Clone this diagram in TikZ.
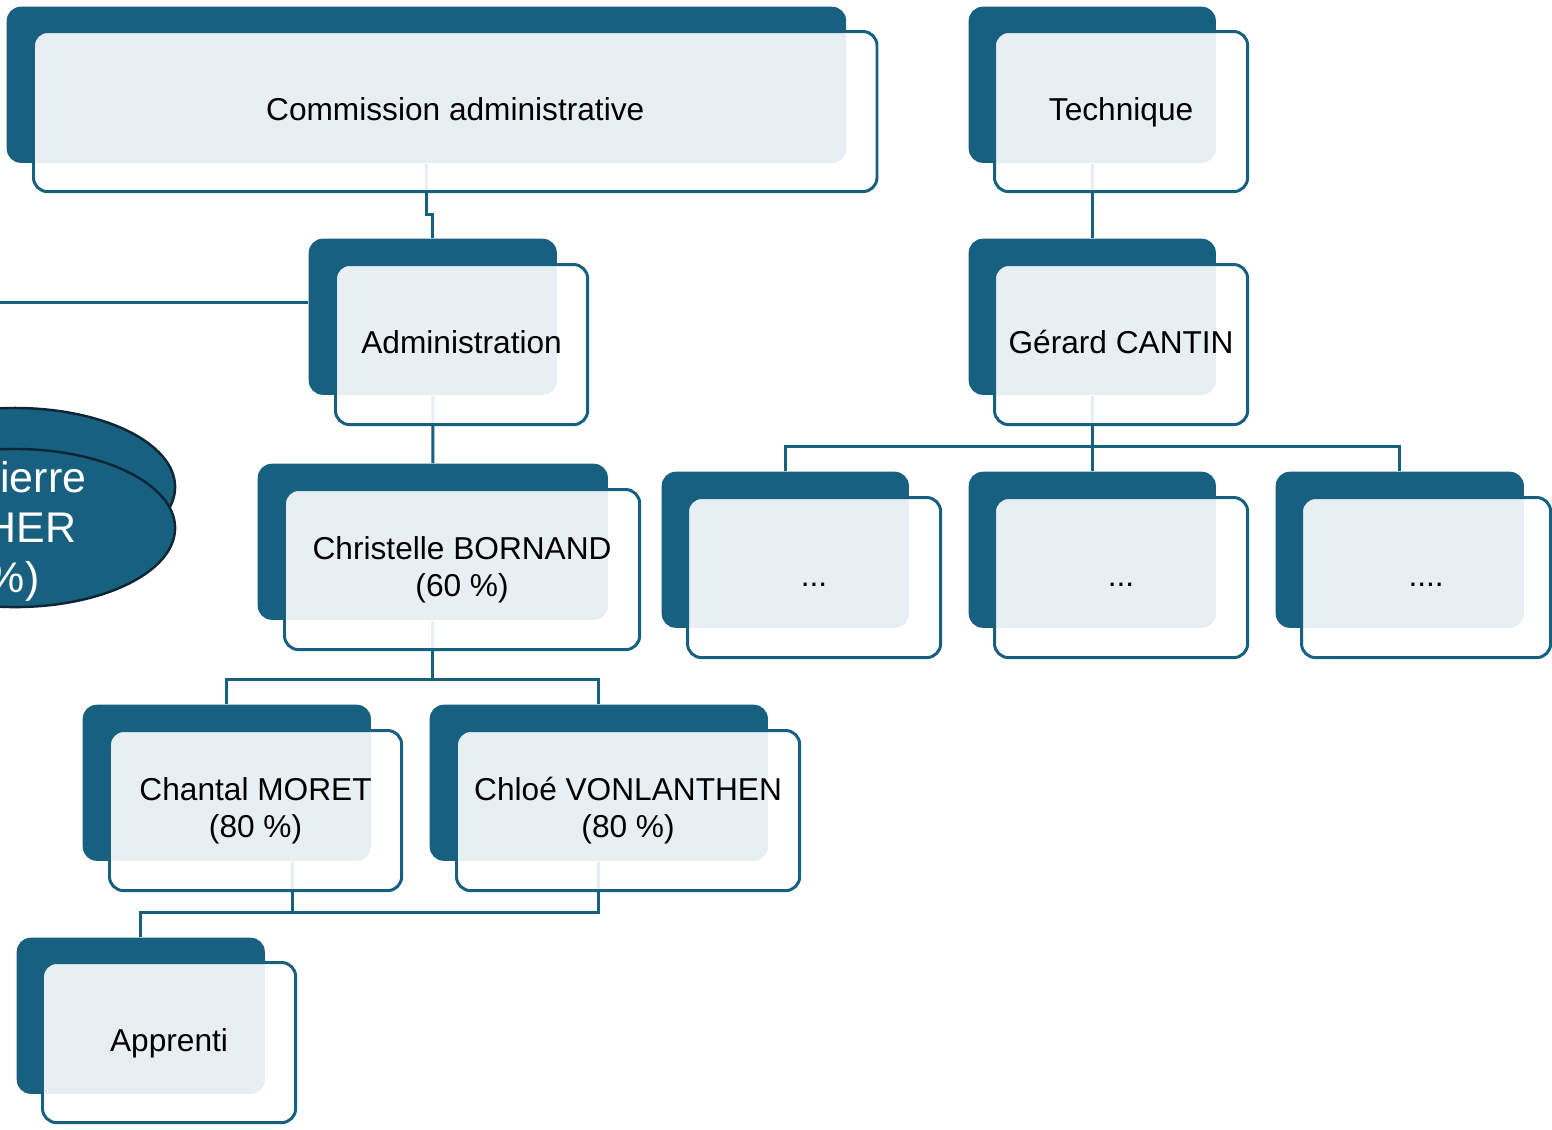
\documentclass[tikz,border=0pt]{standalone}
\usepackage{fontspec}
\setmainfont{Liberation Sans}
\usetikzlibrary{shapes.geometric}
\definecolor{orgblue}{RGB}{23,96,128}
\definecolor{orgline}{RGB}{12,38,56}
\tikzset{
  plate/.style={fill=orgblue, rounded corners=4pt, inner sep=0pt, minimum height=1.56cm, anchor=north west},
  card/.style={draw=orgblue, line width=0.85pt, fill=white, fill opacity=0.9, text opacity=1, rounded corners=4pt,
    minimum height=1.6cm, anchor=north west, align=center, font=\fontsize{9}{10.5}\selectfont},
  onecard/.style={card, text height=6.5pt, text depth=1.4pt},
  link/.style={draw=orgblue, line width=0.85pt},
  bubble/.style={ellipse, draw=orgline, line width=0.7pt, fill=orgblue, minimum width=3.2cm, minimum height=1.58cm},
  bubbletext/.style={text=white, font=\fontsize{12.2}{14}\selectfont, anchor=base east, inner sep=0pt}
}
\begin{document}
\begin{tikzpicture}[x=0.01cm, y=-0.01cm]
	\useasboundingbox (0,0) rectangle (1552,1129);
	\clip (0,0) rectangle (1552,1129);
	% bubble on the left, cut by the page edge
	\node[bubble] (pierre-bk) at (15,487) {};
	\node[bubble] (pierre) at (15,528) {};
	\node[bubbletext] (pierre-a) at (87,492) {Pierre};
	\node[bubbletext] (pierre-b) at (77,542) {HER};
	\node[bubbletext] (pierre-c) at (40,592) {\%)};
	% back plates
	\node[plate, minimum width=8.39cm] (comm-bk) at (6,6) {};
	\node[plate, minimum width=2.47cm] (tech-bk) at (968,6) {};
	\node[plate, minimum width=2.48cm] (admin-bk) at (308,238) {};
	\node[plate, minimum width=2.47cm] (gerard-bk) at (968,238) {};
	\node[plate, minimum width=3.50cm] (christ-bk) at (257,463) {};
	\node[plate, minimum width=2.47cm] (dots1-bk) at (661,471) {};
	\node[plate, minimum width=2.47cm] (dots2-bk) at (968,471) {};
	\node[plate, minimum width=2.48cm] (dots3-bk) at (1275,471) {};
	\node[plate, minimum width=2.88cm] (chantal-bk) at (82,704) {};
	\node[plate, minimum width=3.38cm] (chloe-bk) at (429,704) {};
	\node[plate, minimum width=2.48cm] (appr-bk) at (16,937) {};
	% links
	\coordinate (left-end) at (0,302);
	\draw[link] (left-end) -- (left-end -| admin-bk.west);
	\draw[link] (comm-bk.south) -- ++(0,51) -| (admin-bk.north);
	\draw[link] (tech-bk.south) -- (gerard-bk.north);
	\draw[link] (admin-bk.south) -- (christ-bk.north);
	\draw[link] (gerard-bk.south) -- ++(0,51) coordinate (gerard-fork);
	\draw[link] (dots1-bk.north) |- (gerard-fork) -| (dots3-bk.north);
	\draw[link] (gerard-fork) -- (dots2-bk.north);
	\draw[link] (christ-bk.south) -- ++(0,59) coordinate (christ-fork);
	\draw[link] (chantal-bk.north) |- (christ-fork) -| (chloe-bk.north);
	\draw[link] ([xshift=0.66cm]chantal-bk.south) -- ++(0,51) coordinate (appr-fork);
	\draw[link] (chloe-bk.south) |- (appr-fork) -| (appr-bk.north);
	% cards
	\node[onecard, minimum width=8.43cm] (comm) at (32,30) {Commission administrative};
	\node[onecard, minimum width=2.53cm] (tech) at (993,30) {Technique};
	\node[onecard, minimum width=2.52cm] (admin) at (334,263) {Administration};
	\node[onecard, minimum width=2.53cm] (gerard) at (993,263) {Gérard CANTIN};
	\node[card, minimum width=3.55cm] (christ) at (283,488) {Christelle BORNAND\\(60 \%)};
	\node[onecard, minimum width=2.53cm] (dots1) at (686,496) {...};
	\node[onecard, minimum width=2.53cm] (dots2) at (993,496) {...};
	\node[onecard, minimum width=2.49cm] (dots3) at (1300,496) {....};
	\node[card, minimum width=2.92cm] (chantal) at (108,729) {Chantal MORET\\(80 \%)};
	\node[card, minimum width=3.43cm] (chloe) at (455,729) {Chloé VONLANTHEN\\(80 \%)};
	\node[onecard, minimum width=2.53cm] (appr) at (41,961) {Apprenti};
\end{tikzpicture}
\end{document}
